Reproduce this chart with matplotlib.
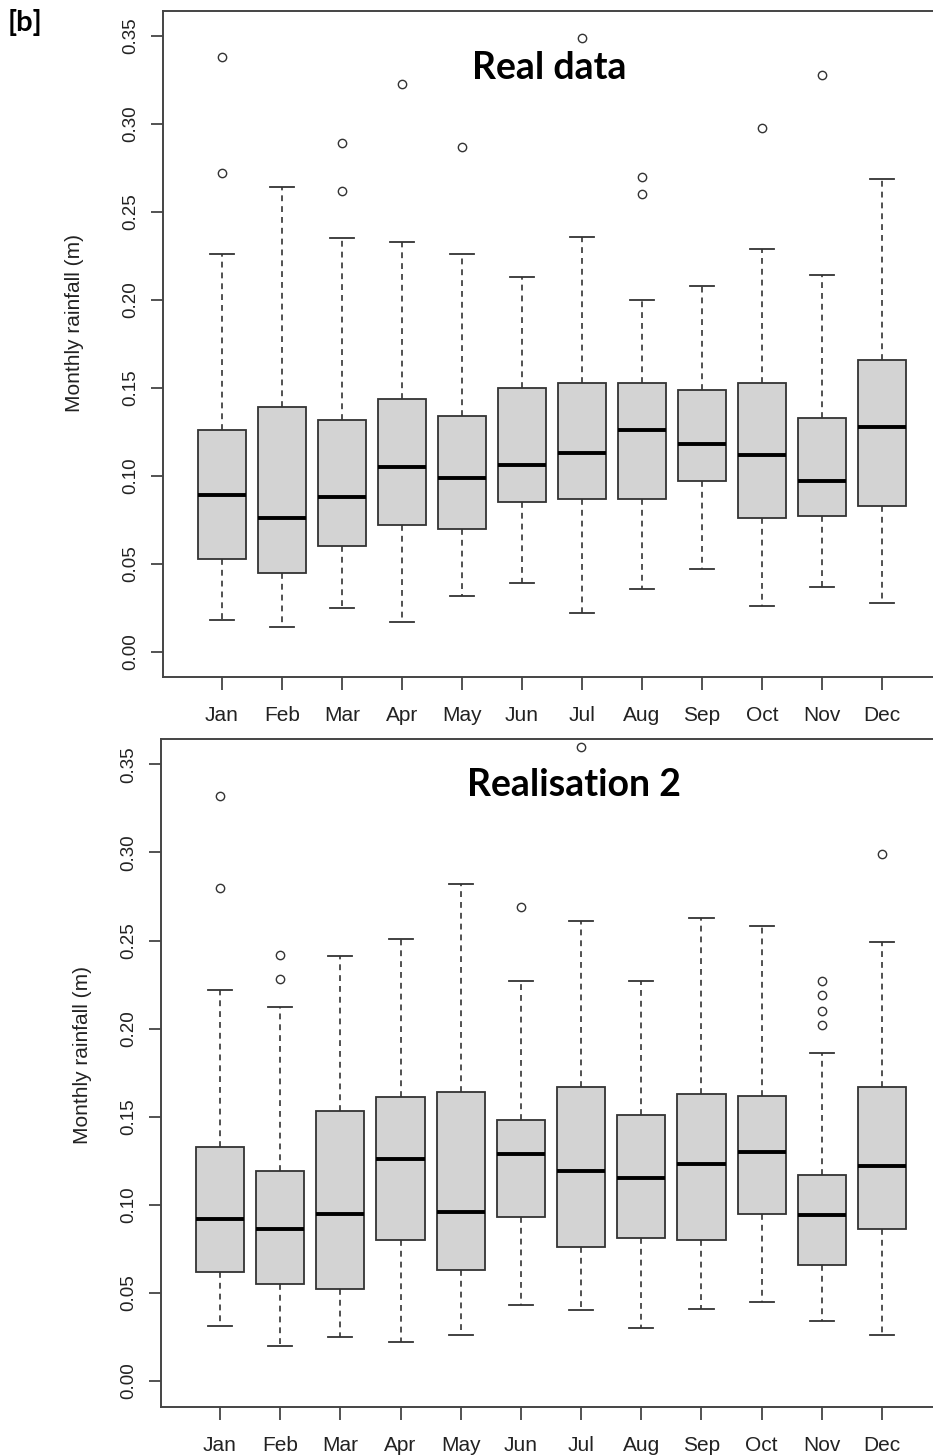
import matplotlib
matplotlib.use("Agg")
import matplotlib.pyplot as plt

months = ["Jan", "Feb", "Mar", "Apr", "May", "Jun",
          "Jul", "Aug", "Sep", "Oct", "Nov", "Dec"]
yticks = [0.00, 0.05, 0.10, 0.15, 0.20, 0.25, 0.30, 0.35]

# panel 1: real data (metres)
real_whislo = [0.018, 0.014, 0.025, 0.017, 0.032, 0.039, 0.022, 0.036, 0.047, 0.026, 0.037, 0.028]
real_q1 = [0.053, 0.045, 0.060, 0.072, 0.070, 0.085, 0.087, 0.087, 0.097, 0.076, 0.077, 0.083]
real_med = [0.089, 0.076, 0.088, 0.105, 0.099, 0.106, 0.113, 0.126, 0.118, 0.112, 0.097, 0.128]
real_q3 = [0.126, 0.139, 0.132, 0.144, 0.134, 0.150, 0.153, 0.153, 0.149, 0.153, 0.133, 0.166]
real_whishi = [0.226, 0.264, 0.235, 0.233, 0.226, 0.213, 0.236, 0.200, 0.208, 0.229, 0.214, 0.269]
real_fliers = [[0.338, 0.272], [], [0.289, 0.262], [0.323], [0.287], [],
               [0.349], [0.270, 0.260], [], [0.298], [0.328], []]

# panel 2: realisation 2
sim_whislo = [0.031, 0.020, 0.025, 0.022, 0.026, 0.043, 0.040, 0.030, 0.041, 0.045, 0.034, 0.026]
sim_q1 = [0.062, 0.055, 0.052, 0.080, 0.063, 0.093, 0.076, 0.081, 0.080, 0.095, 0.066, 0.086]
sim_med = [0.092, 0.086, 0.095, 0.126, 0.096, 0.129, 0.119, 0.115, 0.123, 0.130, 0.094, 0.122]
sim_q3 = [0.133, 0.119, 0.153, 0.161, 0.164, 0.148, 0.167, 0.151, 0.163, 0.162, 0.117, 0.167]
sim_whishi = [0.222, 0.212, 0.241, 0.251, 0.282, 0.227, 0.261, 0.227, 0.263, 0.258, 0.186, 0.249]
sim_fliers = [[0.332, 0.280], [0.242, 0.228], [], [], [], [0.269],
              [0.360], [], [], [], [0.227, 0.219, 0.210, 0.202], [0.299]]

plt.rcParams["font.family"] = ["Liberation Sans", "DejaVu Sans"]

EDGE = "#333333"


def make_stats(whislo, q1, med, q3, whishi, fliers):
    return [dict(whislo=a, q1=b, med=c, q3=d, whishi=e, fliers=f)
            for a, b, c, d, e, f in zip(whislo, q1, med, q3, whishi, fliers)]


def draw_panel(ax, stats, ylim, title, title_xy):
    ax.bxp(stats, positions=range(1, 13), widths=0.8, capwidths=0.4,
           patch_artist=True, showfliers=True,
           boxprops=dict(facecolor="#d3d3d3", edgecolor=EDGE, linewidth=1.3),
           medianprops=dict(color="black", linewidth=2.8),
           whiskerprops=dict(color=EDGE, linewidth=1.2, linestyle=(0, (3.5, 3))),
           capprops=dict(color=EDGE, linewidth=1.3),
           flierprops=dict(marker="o", markersize=6, markerfacecolor="none",
                           markeredgecolor=EDGE, markeredgewidth=1.0))
    ax.set_xlim(0.02, 12.98)
    ax.set_ylim(*ylim)
    ax.set_xticks(range(1, 13))
    ax.set_xticklabels(months)
    ax.set_yticks(yticks)
    ax.set_yticklabels([f"{t:.2f}" for t in yticks], rotation=90, va="center")
    ax.tick_params(axis="x", length=9, width=1.3, color="#444444",
                   labelsize=15, pad=12, labelcolor="#222222")
    ax.tick_params(axis="y", length=9, width=1.3, color="#444444",
                   labelsize=13.5, pad=8, labelcolor="#222222")
    for side in ["left", "bottom", "top", "right"]:
        ax.spines[side].set_color("#444444")
        ax.spines[side].set_linewidth(1.4)
    ax.text(title_xy[0], title_xy[1], title, transform=ax.transAxes,
            ha="center", va="center", fontsize=27, fontweight="bold",
            family=["Lato", "DejaVu Sans"])


fig = plt.figure(figsize=(9.33, 14.55), dpi=100)
W, H = 933, 1455

ax1 = fig.add_axes([163 / W, (H - 677) / H, (941 - 163) / W, (677 - 11) / H])
ax2 = fig.add_axes([161 / W, (H - 1407) / H, (941 - 161) / W, (1407 - 739) / H])

draw_panel(ax1, make_stats(real_whislo, real_q1, real_med, real_q3, real_whishi, real_fliers),
           (-0.0142, 0.3642), "Real data", (0.496, 0.914))
draw_panel(ax2, make_stats(sim_whislo, sim_q1, sim_med, sim_q3, sim_whishi, sim_fliers),
           (-0.0148, 0.3644), "Realisation 2", (0.529, 0.931))

fig.text(75 / W, 1 - 323 / H, "Monthly rainfall (m)", rotation=90,
         ha="center", va="center", fontsize=15, color="#222222")
fig.text(82 / W, 1 - 1055 / H, "Monthly rainfall (m)", rotation=90,
         ha="center", va="center", fontsize=15, color="#222222")
fig.text(8 / W, 1 - 23 / H, "[b]", ha="left", va="center", fontsize=21,
         fontweight="bold", family=["Lato", "DejaVu Sans"])

fig.savefig("out.png", dpi=100)
plt.close(fig)
